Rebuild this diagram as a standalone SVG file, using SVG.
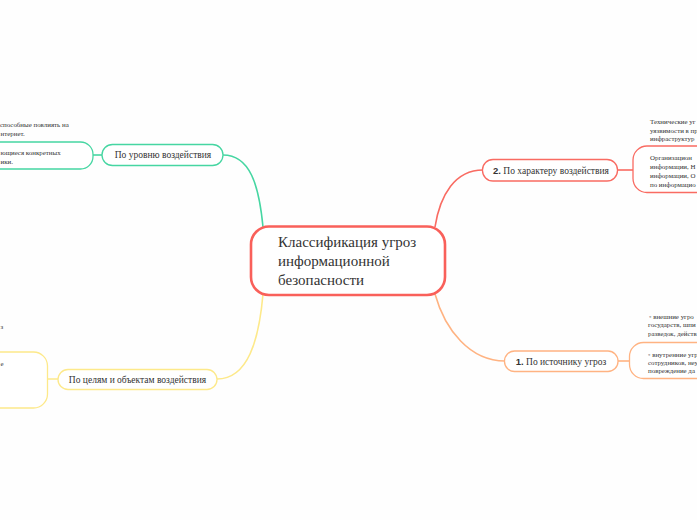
<svg xmlns="http://www.w3.org/2000/svg" width="697" height="520" viewBox="0 0 697 520">
<style>
.bg{fill:#fefefe}
.node{fill:#ffffff;stroke-width:1.3}
.conn{fill:none;stroke-width:1.6}
.t{font-family:"Liberation Serif","DejaVu Serif",serif;fill:#333333}
.main{font-size:15px}
.lbl{font-size:9.5px;text-anchor:middle}
.small{font-size:6.9px}
.num{font-family:"Liberation Sans","DejaVu Sans",sans-serif;font-weight:bold}
.g{stroke:#46d6a2}
.y{stroke:#fde98a}
.r{stroke:#f96b62}
.o{stroke:#ffb382}
</style>
<rect class="bg" x="0" y="0" width="697" height="520"/>
<g id="connectors">
<path class="conn g" d="M223,155 C250,155 259,185 263,227"/>
<path class="conn y" d="M263,294 C259,340 248,379 217,379"/>
<path class="conn r" d="M435,227 C440,195 455,170 483,170"/>
<path class="conn o" d="M435,294 C445,330 470,361 505,361"/>
<path class="conn g" d="M93,155 H102"/>
<path class="conn y" d="M-2,379 H58"/>
<path class="conn r" d="M618,170 H633"/>
<path class="conn o" d="M618,361 H630"/>
</g>
<g id="center">
<rect x="251" y="226.5" width="194" height="68.5" rx="18" fill="#ffffff" stroke="#f9605a" stroke-width="2.6"/>
<text class="t main" x="278" y="247">Классификация угроз</text>
<text class="t main" x="278" y="266">информационной</text>
<text class="t main" x="278" y="285">безопасности</text>
</g>
<g id="node-level">
<rect class="node g" x="102" y="144.5" width="121" height="21" rx="10.5"/>
<text class="t lbl" x="163" y="158">По уровню воздействия</text>
</g>
<g id="node-level-details">
<text class="t small" x="0" y="126.5">способные повлиять на</text>
<text class="t small" x="0.5" y="135.5">нтернет.</text>
<rect class="node g" x="-20" y="142" width="113" height="27" rx="12.5"/>
<text class="t small" x="0.5" y="155">ющиеся конкретных</text>
<text class="t small" x="0.5" y="164">ики.</text>
</g>
<g id="node-goals">
<rect class="node y" x="58" y="369.5" width="159" height="20" rx="10"/>
<text class="t lbl" x="137.5" y="382.5">По целям и объектам воздействия</text>
</g>
<g id="node-goals-details">
<text class="t small" x="0.5" y="329">з</text>
<rect class="node y" x="-30" y="352" width="77.5" height="56" rx="14"/>
<text class="t small" x="0.5" y="366">е</text>
</g>
<g id="node-character">
<rect class="node r" x="482.5" y="159.5" width="135" height="21.5" rx="10.5"/>
<text class="t lbl" x="551" y="173.5"><tspan class="num">2.</tspan> По характеру воздействия</text>
</g>
<g id="node-character-details">
<text class="t small" x="650" y="123.5">Технические уг</text>
<text class="t small" x="650" y="132.5">уязвимости в пр</text>
<text class="t small" x="650" y="141">инфраструктур</text>
<rect class="node r" x="633" y="146" width="100" height="46.5" rx="14"/>
<text class="t small" x="650" y="159.5">Организацион</text>
<text class="t small" x="650" y="168.5">информации, Н</text>
<text class="t small" x="650" y="177.5">информации, О</text>
<text class="t small" x="650" y="186.5">по информацио</text>
</g>
<g id="node-source">
<rect class="node o" x="504.5" y="351" width="113.5" height="20.5" rx="10"/>
<text class="t lbl" x="561" y="364.5"><tspan class="num" font-weight="normal">1.</tspan> По источнику угроз</text>
</g>
<g id="node-source-details">
<text class="t small" x="649" y="319">◦ внешние угро</text>
<text class="t small" x="648" y="327">государств, шпи</text>
<text class="t small" x="648" y="335.5">разведок, действ</text>
<rect class="node o" x="629.5" y="342.5" width="100" height="36" rx="14"/>
<text class="t small" x="648" y="356.5">◦ внутренние угр</text>
<text class="t small" x="648" y="364.5">сотрудников, неу</text>
<text class="t small" x="648" y="373">повреждение да</text>
</g>
</svg>
